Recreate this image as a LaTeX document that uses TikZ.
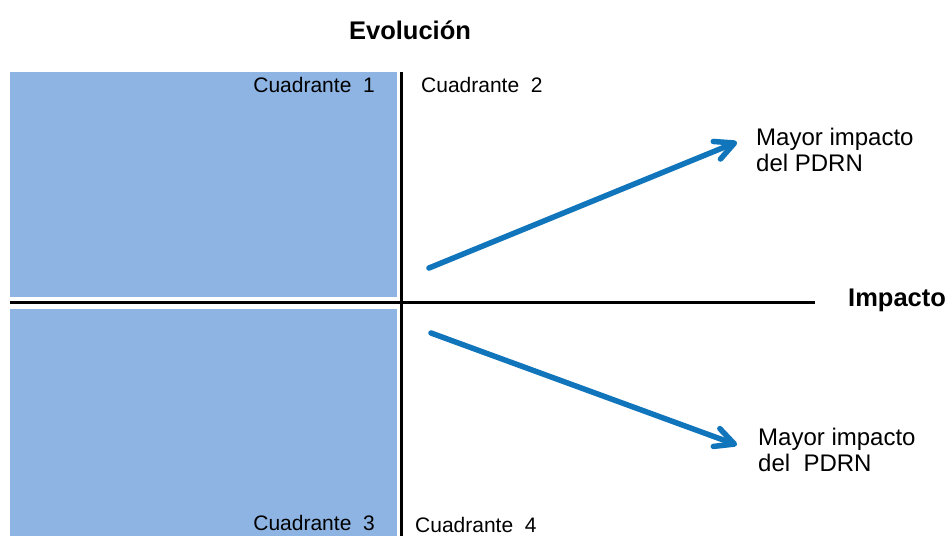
\documentclass[tikz,border=0pt]{standalone}
\usepackage{fontspec}
\setmainfont{Liberation Sans}
\usetikzlibrary{arrows.meta}
\definecolor{quadblue}{RGB}{142,180,227}
\definecolor{arrowblue}{RGB}{16,117,187}
\begin{document}
\begin{tikzpicture}[x=1pt,y=-1pt,
  quad/.style={fill=quadblue,draw=none},
  axis/.style={line width=3pt,black},
  trend/.style={line width=5.5pt,arrowblue,line cap=round,
    -{Straight Barb[length=19pt,width=19pt,line cap=round,line join=round]}},
  qlabel/.style={font=\fontsize{21}{25}\selectfont,inner sep=0pt},
  blabel/.style={font=\fontsize{25.5}{30}\selectfont\bfseries,inner sep=0pt},
  note/.style={font=\fontsize{24}{26}\selectfont,inner sep=0pt,align=left,anchor=north west}]
\useasboundingbox (0,0) rectangle (950,536);
\fill[white] (0,0) rectangle (950,536);
\path[quad] (10,72) rectangle (397,297);
\path[quad] (10,309) rectangle (397,536);
\coordinate (vtop) at (401,72);
\coordinate (vbot) at (401,536);
\coordinate (hl) at (10,302);
\coordinate (hr) at (815,302);
\draw[axis] (vtop) -- (vbot);
\draw[axis] (hl) -- (hr);
\node[blabel] (evo) at (410,30) {Evolución};
\node[blabel,anchor=west] (imp) at (848,300) {Impacto};
\node[qlabel,anchor=east] (q1) at (375,85) {Cuadrante~~1};
\node[qlabel,anchor=west] (q2) at (421,85) {Cuadrante~~2};
\node[qlabel,anchor=east] (q3) at (375,523) {Cuadrante~~3};
\node[qlabel,anchor=west] (q4) at (415,525) {Cuadrante~~4};
\node[note] (m1) at (756,128) {Mayor impacto\\del PDRN};
\node[note] (m2) at (758,428) {Mayor impacto\\del~~PDRN};
\coordinate (a1s) at (429,268);
\coordinate (a1e) at (737,142);
\coordinate (a2s) at (431,333);
\coordinate (a2e) at (737,445);
\draw[trend] (a1s) -- (a1e);
\draw[trend] (a2s) -- (a2e);
\end{tikzpicture}
\end{document}
